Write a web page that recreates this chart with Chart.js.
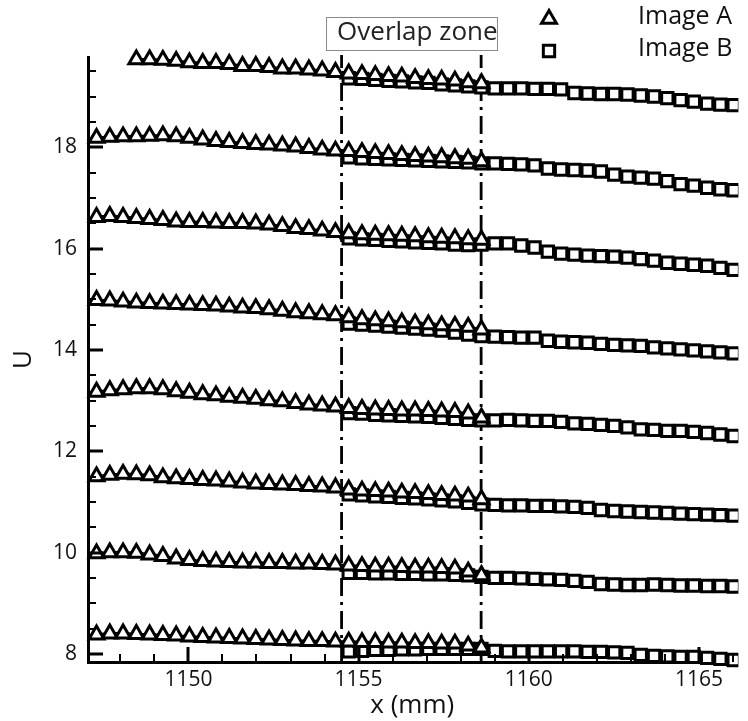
<!DOCTYPE html>
<html>
<head>
<meta charset="utf-8">
<script src="https://cdn.jsdelivr.net/npm/chart.js@4.4.1/dist/chart.umd.min.js"></script>
<style>
  html, body { margin: 0; padding: 0; background: #fff; }
  canvas { display: block; }
</style>
</head>
<body>
<canvas id="chart" width="748" height="721"></canvas>
<script>
// measurement grid (mm) of the two images
const xA = [1147.30, 1147.69, 1148.08, 1148.47, 1148.86, 1149.25, 1149.64, 1150.03, 1150.42, 1150.81,
            1151.20, 1151.59, 1151.98, 1152.37, 1152.76, 1153.15, 1153.54, 1153.93, 1154.32, 1154.71,
            1155.10, 1155.49, 1155.88, 1156.27, 1156.66, 1157.05, 1157.44, 1157.83, 1158.22, 1158.61];
const xB = [1154.71, 1155.10, 1155.49, 1155.88, 1156.27, 1156.66, 1157.05, 1157.44, 1157.83, 1158.22,
            1158.61, 1159.00, 1159.39, 1159.78, 1160.17, 1160.56, 1160.95, 1161.34, 1161.73, 1162.12,
            1162.51, 1162.90, 1163.29, 1163.68, 1164.07, 1164.46, 1164.85, 1165.24, 1165.63, 1166.02];

// Image A profiles (top to bottom)
const imageA_1 = [null, null, null, 19.73, 19.73, 19.72, 19.70, 19.67, 19.66, 19.66, 19.64, 19.60, 19.60, 19.58, 19.55,
                  19.55, 19.53, 19.51, 19.48, 19.45, 19.44, 19.42, 19.40, 19.39, 19.36, 19.34, 19.33, 19.31, 19.28, 19.26];
const imageA_2 = [18.18, 18.20, 18.21, 18.21, 18.22, 18.23, 18.21, 18.18, 18.15, 18.12, 18.10, 18.08, 18.06, 18.05, 18.03,
                  18.01, 17.98, 17.95, 17.93, 17.92, 17.90, 17.88, 17.86, 17.84, 17.82, 17.81, 17.80, 17.78, 17.77, 17.72];
const imageA_3 = [16.62, 16.64, 16.62, 16.60, 16.58, 16.56, 16.53, 16.52, 16.52, 16.51, 16.50, 16.50, 16.49, 16.47, 16.44,
                  16.40, 16.38, 16.35, 16.32, 16.30, 16.28, 16.27, 16.26, 16.25, 16.24, 16.22, 16.21, 16.20, 16.18, 16.17];
const imageA_4 = [14.98, 14.97, 14.95, 14.93, 14.92, 14.91, 14.90, 14.89, 14.88, 14.87, 14.85, 14.83, 14.82, 14.80, 14.77,
                  14.74, 14.72, 14.70, 14.68, 14.64, 14.60, 14.58, 14.56, 14.54, 14.52, 14.50, 14.48, 14.47, 14.45, 14.40];
const imageA_5 = [13.17, 13.20, 13.22, 13.24, 13.24, 13.22, 13.18, 13.15, 13.12, 13.10, 13.07, 13.05, 13.03, 13.00, 12.98,
                  12.95, 12.92, 12.90, 12.88, 12.85, 12.83, 12.82, 12.81, 12.80, 12.80, 12.79, 12.78, 12.77, 12.74, 12.66];
const imageA_6 = [11.50, 11.53, 11.55, 11.54, 11.52, 11.48, 11.46, 11.45, 11.43, 11.42, 11.40, 11.38, 11.36, 11.35, 11.34,
                  11.33, 11.31, 11.30, 11.28, 11.24, 11.22, 11.21, 11.20, 11.18, 11.17, 11.15, 11.13, 11.12, 11.10, 11.05];
const imageA_7 = [9.98, 10.00, 10.00, 9.99, 9.96, 9.93, 9.88, 9.85, 9.83, 9.82, 9.81, 9.80, 9.80, 9.79, 9.79,
                  9.78, 9.78, 9.77, 9.76, 9.74, 9.73, 9.72, 9.72, 9.71, 9.70, 9.70, 9.69, 9.68, 9.62, 9.55];
const imageA_8 = [8.38, 8.40, 8.40, 8.39, 8.38, 8.37, 8.36, 8.34, 8.33, 8.32, 8.31, 8.30, 8.29, 8.28, 8.27,
                  8.26, 8.25, 8.25, 8.24, 8.24, 8.23, 8.23, 8.22, 8.22, 8.21, 8.21, 8.20, 8.20, 8.16, 8.12];

// Image B profiles (top to bottom)
const imageB_1 = [19.36, 19.35, 19.33, 19.31, 19.30, 19.28, 19.27, 19.24, 19.22, 19.20, 19.18, 19.16, 19.16, 19.16, 19.15,
                  19.15, 19.14, 19.07, 19.06, 19.05, 19.05, 19.04, 19.02, 19.00, 18.97, 18.93, 18.90, 18.86, 18.84, 18.83];
const imageB_2 = [17.80, 17.78, 17.77, 17.76, 17.75, 17.74, 17.73, 17.72, 17.71, 17.70, 17.68, 17.68, 17.67, 17.66, 17.64,
                  17.58, 17.56, 17.55, 17.54, 17.52, 17.46, 17.42, 17.40, 17.38, 17.33, 17.27, 17.24, 17.20, 17.17, 17.15];
const imageB_3 = [16.20, 16.18, 16.17, 16.15, 16.14, 16.12, 16.11, 16.10, 16.08, 16.07, 16.08, 16.10, 16.10, 16.06, 16.02,
                  15.94, 15.90, 15.88, 15.86, 15.85, 15.84, 15.82, 15.79, 15.76, 15.72, 15.70, 15.68, 15.66, 15.62, 15.58];
const imageB_4 = [14.52, 14.50, 14.48, 14.46, 14.44, 14.42, 14.40, 14.38, 14.34, 14.30, 14.27, 14.26, 14.25, 14.24, 14.24,
                  14.18, 14.16, 14.15, 14.14, 14.12, 14.10, 14.09, 14.08, 14.05, 14.03, 14.01, 13.99, 13.97, 13.95, 13.93];
const imageB_5 = [12.75, 12.74, 12.72, 12.71, 12.70, 12.69, 12.68, 12.66, 12.64, 12.62, 12.61, 12.61, 12.62, 12.61, 12.60,
                  12.60, 12.58, 12.55, 12.54, 12.52, 12.50, 12.47, 12.43, 12.42, 12.40, 12.40, 12.38, 12.36, 12.33, 12.30];
const imageB_6 = [11.15, 11.13, 11.11, 11.10, 11.08, 11.07, 11.05, 11.03, 11.01, 10.98, 10.95, 10.94, 10.93, 10.93, 10.92,
                  10.92, 10.91, 10.90, 10.88, 10.84, 10.82, 10.81, 10.80, 10.79, 10.78, 10.77, 10.76, 10.75, 10.74, 10.73];
const imageB_7 = [9.60, 9.60, 9.59, 9.59, 9.58, 9.58, 9.57, 9.57, 9.56, 9.55, 9.52, 9.50, 9.50, 9.49, 9.48,
                  9.47, 9.46, 9.44, 9.42, 9.38, 9.37, 9.36, 9.36, 9.37, 9.36, 9.35, 9.35, 9.34, 9.34, 9.33];
const imageB_8 = [8.05, 8.06, 8.08, 8.08, 8.09, 8.09, 8.10, 8.10, 8.10, 8.10, 8.10, 8.06, 8.05, 8.05, 8.05,
                  8.05, 8.05, 8.05, 8.04, 8.04, 8.03, 8.02, 7.98, 7.96, 7.95, 7.94, 7.94, 7.92, 7.90, 7.88];

const overlapX = [1154.5, 1158.6];
const xTicks = [1150, 1155, 1160, 1165];
const yTicks = [8, 10, 12, 14, 16, 18];
const xRange = [1147.05, 1166.1];
const yRange = [7.84, 19.78];

const FONT = '"Open Sans", sans-serif';
const TRI_R = 8.6;
const SQ_R = 8;
const MARK_W = 3;

const rowsA = [imageA_1, imageA_2, imageA_3, imageA_4, imageA_5, imageA_6, imageA_7, imageA_8];
const rowsB = [imageB_1, imageB_2, imageB_3, imageB_4, imageB_5, imageB_6, imageB_7, imageB_8];

const toPoints = (xs, ys) => xs.map((x, i) => ({ x: x, y: ys[i] })).filter(p => p.y !== null);

const datasets = [];
rowsA.forEach(row => datasets.push({
    label: 'Image A',
    data: toPoints(xA, row),
    showLine: true,
    clip: false,
    borderColor: '#000',
    borderWidth: 3,
    pointStyle: 'triangle',
    pointRadius: TRI_R,
    pointBorderWidth: MARK_W,
    pointBackgroundColor: '#fff',
    pointBorderColor: '#000',
    order: 1
}));
rowsB.forEach(row => datasets.push({
    label: 'Image B',
    data: toPoints(xB, row),
    showLine: true,
    clip: { left: 0, top: 12, right: 2, bottom: 12 },
    borderColor: '#000',
    borderWidth: 3,
    pointStyle: 'rect',
    pointRadius: SQ_R,
    pointBorderWidth: MARK_W,
    pointBackgroundColor: '#fff',
    pointBorderColor: '#000',
    order: 2
}));
// overlap zone boundaries (dash-dot)
overlapX.forEach(x => datasets.push({
    label: 'overlap',
    data: [{ x: x, y: yRange[0] }, { x: x, y: 19.82 }],
    showLine: true,
    clip: false,
    borderColor: '#000',
    borderWidth: 2.8,
    borderDash: [18, 6, 3, 6],
    pointRadius: 0,
    order: 5
}));

// inward ticks, overlap label and legend
const decorations = {
    id: 'decorations',
    afterDraw(chart) {
        const { ctx, chartArea: area, scales: { x, y } } = chart;
        ctx.save();
        ctx.strokeStyle = '#000';

        for (let v = 8; v <= y.max; v += 0.5) {
            const major = yTicks.includes(v);
            const py = Math.round(y.getPixelForValue(v));
            ctx.lineWidth = major ? 3 : 2;
            ctx.beginPath();
            ctx.moveTo(area.left, py);
            ctx.lineTo(area.left + (major ? 15 : 8), py);
            ctx.stroke();
        }
        for (let v = Math.ceil(x.min); v <= x.max; v += 1) {
            const major = xTicks.includes(v);
            const px = Math.round(x.getPixelForValue(v));
            ctx.lineWidth = major ? 3 : 2;
            ctx.beginPath();
            ctx.moveTo(px, area.bottom);
            ctx.lineTo(px, area.bottom - (major ? 15 : 8));
            ctx.stroke();
        }

        // "Overlap zone" label box
        const cx = (x.getPixelForValue(overlapX[0]) + x.getPixelForValue(overlapX[1])) / 2 + 6;
        ctx.font = '26px ' + FONT;
        ctx.textAlign = 'center';
        ctx.textBaseline = 'middle';
        ctx.fillStyle = '#222';
        ctx.fillText('Overlap zone', cx, 33);
        ctx.strokeStyle = '#8a8a8a';
        ctx.lineWidth = 1;
        ctx.strokeRect(326.5, 17.5, 171, 33);

        // legend
        const items = [
            { style: 'triangle', radius: TRI_R, text: 'Image A', y: 19 },
            { style: 'rect', radius: SQ_R, text: 'Image B', y: 51 }
        ];
        items.forEach(it => {
            ctx.fillStyle = '#fff';
            ctx.strokeStyle = '#000';
            ctx.lineWidth = MARK_W;
            Chart.helpers.drawPoint(ctx, { pointStyle: it.style, radius: it.radius, borderWidth: MARK_W, rotation: 0 }, 549, it.y);
            ctx.fillStyle = '#111';
            ctx.font = '25px ' + FONT;
            ctx.textAlign = 'left';
            ctx.textBaseline = 'middle';
            ctx.fillText(it.text, 638, it.y - 2);
        });
        ctx.restore();
    }
};

new Chart(document.getElementById('chart'), {
    type: 'scatter',
    data: { datasets: datasets },
    options: {
        responsive: false,
        animation: false,
        layout: { padding: { top: 57, right: 2, left: 0, bottom: 0 } },
        plugins: {
            legend: { display: false },
            tooltip: { enabled: false }
        },
        scales: {
            x: {
                type: 'linear',
                min: xRange[0],
                max: xRange[1],
                afterBuildTicks: scale => { scale.ticks = xTicks.map(v => ({ value: v })); },
                afterFit: scale => { scale.height = 59; },
                grid: { display: false, drawTicks: false },
                border: { display: true, color: '#000', width: 3 },
                ticks: { color: '#111', font: { family: FONT, size: 21 }, padding: 5, maxRotation: 0, callback: v => String(v) },
                title: { display: true, text: 'x (mm)', color: '#111', font: { family: FONT, size: 26 }, padding: { top: -3, bottom: 0 } }
            },
            y: {
                type: 'linear',
                min: yRange[0],
                max: yRange[1],
                afterBuildTicks: scale => { scale.ticks = yTicks.map(v => ({ value: v })); },
                afterFit: scale => { scale.width = 88; },
                grid: { display: false, drawTicks: false },
                border: { display: true, color: '#000', width: 3 },
                ticks: { color: '#111', font: { family: FONT, size: 21 }, padding: 11, callback: v => String(v) },
                title: { display: true, text: 'U', color: '#111', font: { family: FONT, size: 26 }, padding: { top: 8, bottom: 0 } }
            }
        }
    },
    plugins: [decorations]
});
</script>
</body>
</html>
